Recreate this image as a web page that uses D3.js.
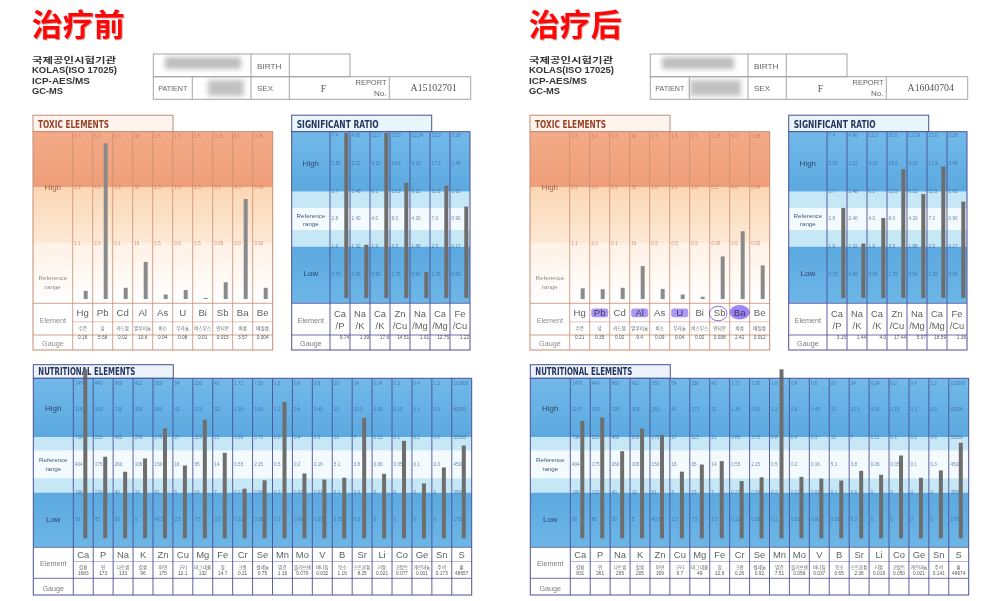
<!DOCTYPE html>
<html>
<head>
<meta charset="utf-8">
<script src="https://cdn.jsdelivr.net/npm/d3@7"></script>
<style>
  body { margin: 0; background: #fff; }
  svg { display: block; }
</style>
</head>
<body>
<svg id="chart" width="1000" height="601"></svg>
<script>
// ---------- data ----------
const toxicElements = ["Hg", "Pb", "Cd", "Al", "As", "U", "Bi", "Sb", "Ba", "Be"];
const toxicKorean = ["수은", "납", "카드뮴", "알루미늄", "비소", "우라늄", "비스무스", "안티몬", "바륨", "베릴륨"];
const toxicTicks = [
    ["3.3", "2.2", "1.1"], ["6.0", "4.0", "2.0"], ["0.3", "0.2", "0.1"], ["48", "32", "16"],
    ["1.5", "1.0", "0.5"], ["1.5", "1.0", "0.5"], ["1.5", "1.0", "0.5"], ["0.15", "0.1", "0.05"],
    ["6.0", "4.0", "2.0"], ["0.06", "0.04", "0.02"]
];
const toxicBefore = ["0.16", "5.58", "0.02", "10.6", "0.04", "0.08", "0.01", "0.015", "3.57", "0.004"];
const toxicAfter = ["0.21", "0.35", "0.02", "9.4", "0.09", "0.04", "0.02", "0.038", "2.42", "0.012"];

const ratioNames = ["Ca/P", "Na/K", "Ca/K", "Zn/Cu", "Na/Mg", "Ca/Mg", "Fe/Cu"];
const ratioTicks = [
    ["7.4", "5.55", "3.7", "2.8", "1.6", "0.75"],
    ["4.96", "3.22", "2.48", "2.40", "1.32", "0.66"],
    ["12.2", "9.15", "6.1", "4.0", "1.9", "0.95"],
    ["25.0", "18.8", "12.5", "8.0", "3.5", "1.75"],
    ["12.24", "9.18", "6.12", "4.30", "1.88", "0.94"],
    ["23.0", "17.3", "11.5", "7.0", "2.5", "1.25"],
    ["3.26", "2.45", "1.63", "0.90", "0.17", "0.09"]
];
const ratioBefore = ["9.74", "1.39", "17.6", "14.51", "1.01", "12.75", "1.22"];
const ratioAfter = ["3.15", "1.44", "4.0", "17.44", "5.97", "16.59", "1.36"];

const nutriElements = ["Ca", "P", "Na", "K", "Zn", "Cu", "Mg", "Fe", "Cr", "Se", "Mn", "Mo", "V", "B", "Sr", "Li", "Co", "Ge", "Sn", "S"];
const nutriKorean = ["칼슘", "인", "나트륨", "칼륨", "아연", "구리", "마그네슘", "철", "크롬", "셀레늄", "망간", "몰리브덴", "바나듐", "붕소", "스트론튬", "리튬", "코발트", "게르마늄", "주석", "황"];
const nutriTicks = [
    ["1476", "1107", "738", "404", "186", "93"],
    ["440", "330", "220", "175", "130", "65"],
    ["960", "720", "480", "260", "40", "20"],
    ["412", "309", "206", "106", "10", "5"],
    ["350", "263", "175", "150", "81", "40.5"],
    ["54", "41", "27", "16", "5", "2.5"],
    ["230", "173", "115", "65", "15", "7.5"],
    ["42", "32", "21", "14", "7", "3.5"],
    ["1.72", "1.30", "0.86", "0.55", "0.23", "0.12"],
    ["7.30", "5.60", "3.75", "2.15", "0.56", "0.28"],
    ["1.6", "1.2", "0.8", "0.5", "0.2", "0.1"],
    ["0.8", "0.6", "0.4", "0.2", "0.01", "0.005"],
    ["0.6", "0.45", "0.3", "0.16", "0.01", "0.005"],
    ["20", "15", "10", "5.1", "0.1", "0.05"],
    ["14", "10.5", "7", "3.8", "0.6", "0.3"],
    ["0.24", "0.18", "0.12", "0.06", "0", "0"],
    ["0.2", "0.15", "0.1", "0.05", "0", "0"],
    ["0.4", "0.3", "0.2", "0.1", "0", "0"],
    ["1.2", "0.9", "0.6", "0.3", "0", "0"],
    ["110000", "82500", "55000", "45000", "35000", "17500"]
];
const nutriBefore = ["1683", "173", "133", "96", "175", "12.1", "132", "14.7", "0.21", "0.75", "1.16", "0.079", "0.032", "1.16", "8.25", "0.021", "0.077", "0.001", "0.173", "48657"];
const nutriAfter = ["831", "261", "295", "205", "169", "9.7", "49", "12.6", "0.26", "0.92", "7.51", "0.056", "0.037", "0.65", "2.06", "0.019", "0.050", "0.021", "0.141", "49674"];

const labLines = ["국제공인시험기관", "KOLAS(ISO 17025)", "ICP-AES/MS", "GC-MS"];
const highlighted = ["Pb", "Al", "U", "Ba"];
const circled = ["Sb"];

// ---------- setup ----------
const sans = "'Liberation Sans', Arial, sans-serif";
const serif = "'Liberation Serif', 'DejaVu Serif', serif";
const kor = "'Noto Sans CJK KR', sans-serif";
const svg = d3.select("#chart");
const defs = svg.append("defs");

function grad(id, stops)
{
    const g = defs.append("linearGradient").attr("id", id)
        .attr("x1", 0).attr("y1", 0).attr("x2", 0).attr("y2", 1);
    stops.forEach(s => g.append("stop").attr("offset", s[0]).attr("stop-color", s[1]));
}
grad("toxHigh", [[0, "#f3ab88"], [1, "#ee9e78"]]);
grad("toxMid", [[0, "#fbd6b4"], [1, "#fde9d5"]]);
grad("toxLow", [[0, "#fff1e6"], [1, "#ffffff"]]);
grad("blueHigh", [[0, "#72b9e9"], [1, "#5ba9e0"]]);
grad("blueLow", [[0, "#5ba9e0"], [1, "#6db6e7"]]);
defs.append("filter").attr("id", "blur").attr("x", "-30%").attr("y", "-60%").attr("width", "160%").attr("height", "220%")
    .append("feGaussianBlur").attr("stdDeviation", 2.6);

const lightBlue = "#c6e7f6";
const whiteBlue = "#f4fbfe";

// ---------- section drawing ----------
function drawSection(g, s, values)
{
    const n = s.names.length;
    const x = d3.scaleBand().domain(d3.range(n)).range([s.labelEnd, s.x1]);
    const cw = x.bandwidth();
    const yScale = i => d3.scaleLinear()
        .domain([0, ...s.ticks[i].map(Number).reverse()])
        .range(s.barRange)
        .clamp(true);

    // title tab
    g.append("rect")
        .attr("x", s.x0).attr("y", s.top - s.tabH)
        .attr("width", s.tabW).attr("height", s.tabH)
        .attr("fill", s.tabFill).attr("stroke", s.line).attr("stroke-width", 1);
    g.append("text")
        .attr("x", s.x0 + 5).attr("y", s.top - 3.6)
        .attr("textLength", s.titleLen).attr("lengthAdjust", "spacingAndGlyphs")
        .attr("font-family", "'DejaVu Sans', sans-serif").attr("font-weight", "bold")
        .attr("font-size", 9.6).attr("fill", s.titleColor)
        .text(s.title);

    // colour bands
    g.selectAll(null).data(s.bands).join("rect")
        .attr("x", s.x0).attr("y", d => d[0])
        .attr("width", s.x1 - s.x0).attr("height", d => d[1] - d[0])
        .attr("fill", d => d[2]);
    g.append("rect")
        .attr("x", s.x0).attr("y", s.chartBottom)
        .attr("width", s.x1 - s.x0).attr("height", s.bottom - s.chartBottom)
        .attr("fill", "#fff");

    // tick labels inside each column
    s.ticks.forEach((t, i) =>
    {
        g.selectAll(null).data(t).join("text")
            .attr("x", x(i) + 1.6)
            .attr("y", (d, k) => s.tickY[k])
            .attr("dy", "0.35em")
            .attr("font-family", sans).attr("font-size", 4.6)
            .attr("fill", s.tickColor).attr("opacity", 0.75)
            .text(d => d);
    });

    // bars
    g.selectAll(null).data(values).join("rect")
        .attr("x", (d, i) => x(i) + s.barOffset - 2)
        .attr("y", (d, i) => yScale(i)(+d))
        .attr("width", 4)
        .attr("height", (d, i) => s.barRange[0] - yScale(i)(+d))
        .attr("fill", s.barColor);

    // column lines
    const colX = d3.range(n).map(i => x(i));
    g.selectAll(null).data(colX).join("line")
        .attr("x1", d => d).attr("x2", d => d)
        .attr("y1", s.top).attr("y2", s.bottom)
        .attr("stroke", s.line).attr("stroke-width", s.lineW);
    g.selectAll(null).data(s.fullRows).join("line")
        .attr("x1", s.x0).attr("x2", s.x1)
        .attr("y1", d => d).attr("y2", d => d)
        .attr("stroke", s.line).attr("stroke-width", 0.8);
    g.selectAll(null).data(s.colRows).join("line")
        .attr("x1", s.labelEnd).attr("x2", s.x1)
        .attr("y1", d => d).attr("y2", d => d)
        .attr("stroke", s.line).attr("stroke-width", 0.6).attr("opacity", 0.8);
    g.append("rect")
        .attr("x", s.x0).attr("y", s.top)
        .attr("width", s.x1 - s.x0).attr("height", s.bottom - s.top)
        .attr("fill", "none").attr("stroke", s.line).attr("stroke-width", 1);

    // left labels
    const lx = (s.x0 + s.labelEnd) / 2;
    g.selectAll(null).data(s.labels).join("text")
        .attr("x", lx).attr("y", d => d.y).attr("dy", "0.35em")
        .attr("text-anchor", "middle")
        .attr("font-family", sans).attr("font-size", d => d.size)
        .attr("fill", d => d.color)
        .text(d => d.t);

    // element names
    g.selectAll(null).data(s.names).join("text")
        .attr("x", (d, i) => x(i) + cw / 2).attr("y", s.symbolY).attr("dy", "0.35em")
        .attr("text-anchor", "middle")
        .attr("font-family", sans).attr("font-size", s.symbolSize).attr("fill", "#5f5f5f")
        .text(d => d);
    g.selectAll(null).data(s.subNames).join("text")
        .attr("x", (d, i) => x(i) + cw / 2).attr("y", s.subY).attr("dy", "0.35em")
        .attr("text-anchor", "middle")
        .attr("font-family", s.subFont).attr("font-size", s.subSize).attr("fill", "#5f5f5f")
        .text(d => d);

    // gauge values
    g.selectAll(null).data(values).join("text")
        .attr("x", (d, i) => s.gaugeAnchor === "end" ? x(i) + cw - 0.8 : x(i) + cw / 2)
        .attr("y", s.gaugeY).attr("dy", "0.35em")
        .attr("text-anchor", s.gaugeAnchor)
        .attr("font-family", sans).attr("font-size", s.gaugeSize).attr("fill", "#555")
        .text(d => d);

    return x;
}

const toxicSection = {
    title: "TOXIC ELEMENTS", titleLen: 71, titleColor: "#9c3f27",
    tabFill: "#fdf4ee", tabW: 140, tabH: 16.5,
    x0: 33, labelEnd: 72.7, x1: 272.7, top: 131.7, chartBottom: 303.3, bottom: 350,
    bands: [[131.7, 187, "url(#toxHigh)"], [187, 243, "url(#toxMid)"], [243, 303.3, "url(#toxLow)"]],
    ticks: toxicTicks, tickY: [136.8, 187.2, 243.2], tickColor: "#c86f4f",
    barRange: [299, 243, 187, 131.7], barOffset: 13, barColor: "#8a8a8a",
    line: "#c58b75", lineW: 0.8,
    fullRows: [303.3, 335], colRows: [321.8],
    names: toxicElements, symbolY: 312.8, symbolSize: 9.6,
    subNames: toxicKorean, subY: 328.3, subSize: 4.6, subFont: kor,
    gaugeY: 337.2, gaugeAnchor: "middle", gaugeSize: 4.8,
    labels: [
        {t: "High", y: 187, size: 8, color: "#9a5f4c"},
        {t: "Reference", y: 277.5, size: 6.2, color: "#8c8c8c"},
        {t: "range", y: 286.5, size: 6.2, color: "#8c8c8c"},
        {t: "Element", y: 320, size: 7.2, color: "#8c8c8c"},
        {t: "Gauge", y: 343, size: 7.2, color: "#8c8c8c"}
    ]
};

const ratioSection = {
    title: "SIGNIFICANT RATIO", titleLen: 82, titleColor: "#27335f",
    tabFill: "#e8f6fb", tabW: 140, tabH: 16.5,
    x0: 291.7, labelEnd: 330, x1: 470, top: 131.7, chartBottom: 303.3, bottom: 350,
    bands: [[131.7, 191.7, "url(#blueHigh)"], [191.7, 208, lightBlue], [208, 230, whiteBlue],
        [230, 246.7, lightBlue], [246.7, 303.3, "url(#blueLow)"]],
    ticks: ratioTicks, tickY: [135.6, 163.2, 191.8, 218.2, 246.7, 274.2], tickColor: "#36639a",
    barRange: [298, 274, 246.7, 218, 192, 163, 133], barOffset: 16.3, barColor: "#6e6e6e",
    line: "#4d4f94", lineW: 0.9,
    fullRows: [303.3, 335], colRows: [],
    names: ratioNames.map(d => d.split("/")[0]), symbolY: 313.5, symbolSize: 9.4,
    subNames: ratioNames.map(d => "/" + d.split("/")[1]), subY: 326, subSize: 9.4, subFont: sans,
    gaugeY: 337.4, gaugeAnchor: "end", gaugeSize: 4.8,
    labels: [
        {t: "High", y: 163, size: 8, color: "#2e466f"},
        {t: "Reference", y: 216.3, size: 6.2, color: "#41587a"},
        {t: "range", y: 223.5, size: 6.2, color: "#41587a"},
        {t: "Low", y: 273.5, size: 8, color: "#2e466f"},
        {t: "Element", y: 320, size: 7.2, color: "#7c7c7c"},
        {t: "Gauge", y: 343, size: 7.2, color: "#7c7c7c"}
    ]
};

const nutriSection = {
    title: "NUTRITIONAL ELEMENTS", titleLen: 97, titleColor: "#27335f",
    tabFill: "#ecf3fb", tabW: 140, tabH: 13.6,
    x0: 33.3, labelEnd: 73.3, x1: 471.7, top: 378.3, chartBottom: 547.3, bottom: 595,
    bands: [[378.3, 437.3, "url(#blueHigh)"], [437.3, 450.7, lightBlue], [450.7, 478.3, whiteBlue],
        [478.3, 492.7, lightBlue], [492.7, 547.3, "url(#blueLow)"]],
    ticks: nutriTicks, tickY: [383, 409.8, 437.6, 464.8, 492.7, 519.3], tickColor: "#36639a",
    barRange: [538.3, 511, 483.7, 455.5, 428.3, 399, 369.3], barOffset: 12, barColor: "#6e6e6e",
    line: "#4d4f94", lineW: 0.9,
    fullRows: [547.3, 578.3], colRows: [561.7],
    names: nutriElements, symbolY: 555, symbolSize: 9.4,
    subNames: nutriKorean, subY: 567.3, subSize: 4.6, subFont: kor,
    gaugeY: 573.4, gaugeAnchor: "middle", gaugeSize: 4.8,
    labels: [
        {t: "High", y: 408.5, size: 8, color: "#2e466f"},
        {t: "Reference", y: 460, size: 6.2, color: "#41587a"},
        {t: "range", y: 469.3, size: 6.2, color: "#41587a"},
        {t: "Low", y: 519.5, size: 8, color: "#2e466f"},
        {t: "Element", y: 563, size: 7.2, color: "#7c7c7c"},
        {t: "Gauge", y: 588, size: 7.2, color: "#7c7c7c"}
    ]
};

// ---------- header ----------
function drawHeader(g, p)
{
    g.append("text")
        .attr("x", 32.8).attr("y", 37)
        .attr("font-family", "'Noto Sans CJK SC', sans-serif").attr("font-weight", "bold")
        .attr("font-size", 31).attr("fill", "#7a0000").attr("opacity", 0.35)
        .text(p.title);
    g.append("text")
        .attr("x", 31.8).attr("y", 36)
        .attr("font-family", "'Noto Sans CJK SC', sans-serif").attr("font-weight", "bold")
        .attr("font-size", 31).attr("fill", "#ff0606")
        .text(p.title);

    g.selectAll(null).data(labLines).join("text")
        .attr("x", 32).attr("y", (d, i) => 60 + i * 10.4).attr("dy", "0.35em")
        .attr("font-family", (d, i) => i === 0 ? kor : sans)
        .attr("font-weight", "bold").attr("font-size", 8.2).attr("fill", "#333")
        .attr("textLength", (d, i) => [84, 85, 58, 31][i]).attr("lengthAdjust", "spacingAndGlyphs")
        .text(d => d);

    // patient table
    g.append("rect").attr("x", 165).attr("y", 57).attr("width", p.blurTop).attr("height", 12)
        .attr("fill", "#bdbdbd").attr("filter", "url(#blur)");
    g.append("rect").attr("x", p.blurX).attr("y", 80).attr("width", 244 - p.blurX).attr("height", 16)
        .attr("fill", "#c2c2c2").attr("filter", "url(#blur)");

    const t = g.append("g").attr("fill", "none").attr("stroke", "#a5a5a5").attr("stroke-width", 1);
    t.append("rect").attr("x", 153.3).attr("y", 54).attr("width", 196.7).attr("height", 22.7);
    t.append("rect").attr("x", 153.3).attr("y", 76.7).attr("width", 317.4).attr("height", 22.6);
    [[192.3, 76.7], [251, 54], [289.3, 54], [389.3, 76.7]].forEach(d =>
        t.append("line").attr("x1", d[0]).attr("x2", d[0]).attr("y1", d[1]).attr("y2", 99.3));

    const txt = (s, x, y, opt = {}) => g.append("text")
        .attr("x", x).attr("y", y).attr("dy", "0.35em")
        .attr("text-anchor", opt.anchor || "start")
        .attr("font-family", opt.font || sans).attr("font-size", opt.size || 8)
        .attr("fill", opt.color || "#666")
        .attr("textLength", opt.len || null).attr("lengthAdjust", opt.len ? "spacingAndGlyphs" : null)
        .text(s);
    txt("BIRTH", 257, 66, {len: 24.5});
    txt("PATIENT", 158.3, 88.3, {len: 29});
    txt("SEX", 257, 88.3, {len: 16});
    txt("F", 323.5, 88.3, {anchor: "middle", font: serif, size: 9.5, color: "#555"});
    txt("REPORT", 386.5, 81.7, {anchor: "end", len: 31});
    txt("No.", 386.5, 93.3, {anchor: "end"});
    txt(p.report, 433.7, 87.5, {anchor: "middle", font: serif, size: 9.8, color: "#555"});
}

// ---------- panels ----------
const panels = [
    {dx: 0, title: "治疗前", report: "A15102701", blurTop: 76, blurX: 208,
        toxic: toxicBefore, ratio: ratioBefore, nutri: nutriBefore, marks: false},
    {dx: 497, title: "治疗后", report: "A16040704", blurTop: 72, blurX: 193,
        toxic: toxicAfter, ratio: ratioAfter, nutri: nutriAfter, marks: true}
];

panels.forEach(p =>
{
    const g = svg.append("g").attr("transform", `translate(${p.dx},0)`);
    drawHeader(g, p);
    const tx = drawSection(g, toxicSection, p.toxic);
    drawSection(g, ratioSection, p.ratio);
    drawSection(g, nutriSection, p.nutri);

    if (p.marks)
    {
        // highlighter marks on the element row
        const marks = g.append("g").style("mix-blend-mode", "multiply");
        highlighted.forEach(el =>
        {
            const i = toxicElements.indexOf(el);
            const cx = tx(i) + tx.bandwidth() / 2;
            if (el === "Ba")
            {
                marks.append("ellipse").attr("cx", cx).attr("cy", 312.3)
                    .attr("rx", 10).attr("ry", 7.2).attr("fill", "#7d5cf2").attr("opacity", 0.75);
            } else
            {
                marks.append("rect").attr("x", cx - 8.5).attr("y", 308.6)
                    .attr("width", 17).attr("height", 8.6).attr("rx", 2.5)
                    .attr("fill", "#8a6cf4").attr("opacity", 0.7);
            }
        });
        circled.forEach(el =>
        {
            const i = toxicElements.indexOf(el);
            const cx = tx(i) + tx.bandwidth() / 2;
            marks.append("ellipse").attr("cx", cx - 1.5).attr("cy", 313.5)
                .attr("rx", 8.8).attr("ry", 7.3).attr("fill", "none")
                .attr("stroke", "#7d5cf2").attr("stroke-width", 0.9);
        });
    }
});
</script>
</body>
</html>
